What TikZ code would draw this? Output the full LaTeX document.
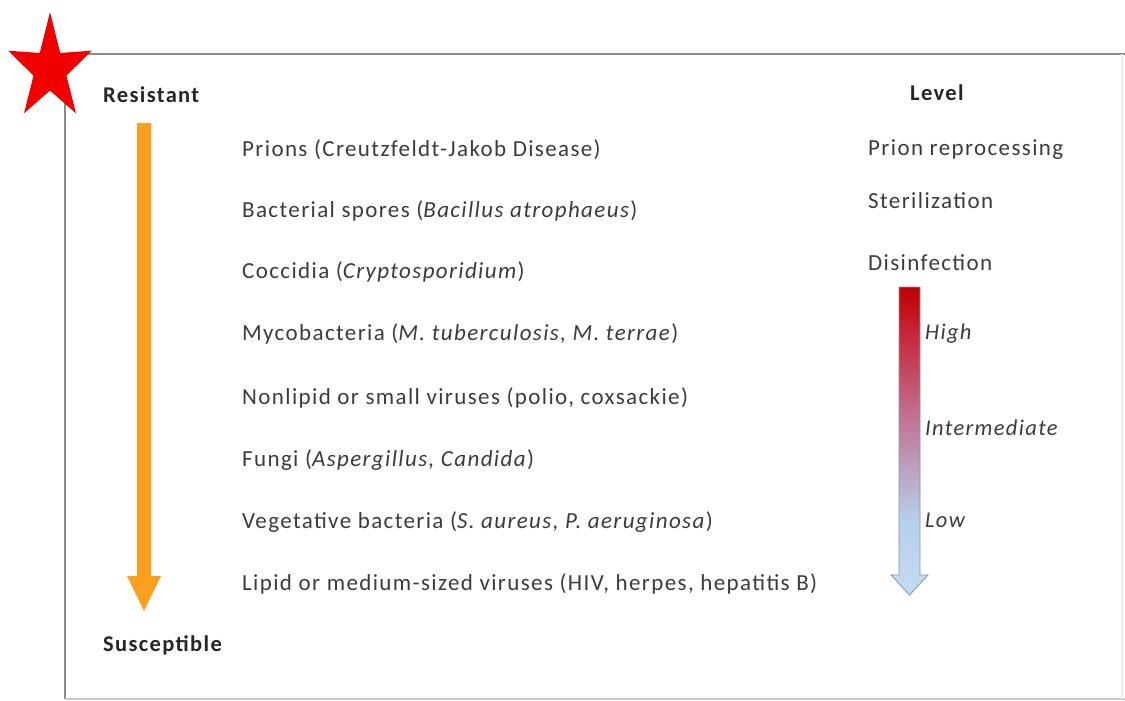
\documentclass[tikz,border=0pt]{standalone}
\usepackage{fontspec}
\setmainfont{Carlito}[LetterSpace=6]
\definecolor{textgray}{RGB}{60,60,60}
\definecolor{framegray}{RGB}{140,140,140}
\definecolor{arroworange}{RGB}{250,160,30}
\definecolor{darkred}{RGB}{192,0,0}
\definecolor{redtwo}{RGB}{200,40,60}
\definecolor{midpink}{RGB}{192,125,158}
\definecolor{lightblue}{RGB}{195,220,240}
\definecolor{lbtwo}{RGB}{183,208,234}
\definecolor{outlineblue}{RGB}{130,150,175}
\pgfdeclareverticalshading{lvlshade}{100bp}{color(0bp)=(lightblue); color(25bp)=(lightblue);
  color(37bp)=(lbtwo); color(52bp)=(midpink); color(67bp)=(redtwo); color(75bp)=(darkred); color(100bp)=(darkred)}
\begin{document}
\begin{tikzpicture}[x=1pt,y=-1pt,
  txt/.style={anchor=west,inner sep=0pt,text=textgray,font=\fontsize{23}{26}\selectfont},
  hdr/.style={anchor=west,inner sep=0pt,text=black!85,font=\fontsize{22.5}{26}\selectfont\bfseries},
  lvl/.style={anchor=west,inner sep=0pt,text=textgray,font=\fontsize{22.5}{26}\selectfont\itshape}]
\useasboundingbox (0,0) rectangle (1125,701);
\fill[white] (0,0) rectangle (1125,701);
% frame
\coordinate (tl) at (65,54);
\coordinate (tr) at (1125,54);
\coordinate (bl) at (65,699);
\coordinate (br) at (1125,699);
\draw[framegray,line width=2.5pt] (tr) -- (tl) -- (bl);
\draw[black!22,line width=2pt] (bl) -- (br);
\draw[black!8,line width=1.5pt] (1122,54) -- (1122,699);
% star
\fill[red!95!black] (50,12) -- (60.2,53.0) -- (91.8,50.7) -- (66.5,75.6) -- (76.0,113.3)
  -- (50,90.6) -- (24.0,113.3) -- (33.5,75.6) -- (8.2,50.7) -- (39.8,53.0) -- cycle;
% headers
\node[hdr] (res) at (103,95) {Resistant};
\node[hdr] (sus) at (103,645) {Susceptible};
\node[hdr] (lev) at (910,93) {Level};
% orange arrow
\fill[arroworange] (137,123) -- (151,123) -- (151,576) -- (161,576) -- (144,611)
  -- (127,576) -- (137,576) -- cycle;
% organisms
\node[txt] (r1) at (242,150) {Prions (Creutzfeldt-Jakob Disease)};
\node[txt] (r2) at (242,211) {Bacterial spores (\textit{Bacillus atrophaeus})};
\node[txt] (r3) at (242,272) {Coccidia (\textit{Cryptosporidium})};
\node[txt] (r4) at (242,334) {Mycobacteria (\textit{M. tuberculosis, M. terrae})};
\node[txt] (r5) at (242,398) {Nonlipid or small viruses (polio, coxsackie)};
\node[txt] (r6) at (242,460) {Fungi (\textit{Aspergillus, Candida})};
\node[txt] (r7) at (242,522) {Vegetative bacteria (\textit{S. aureus, P. aeruginosa})};
\node[txt] (r8) at (242,584) {Lipid or medium-sized viruses (HIV, herpes, hepatitis B)};
% levels
\node[txt] (l1) at (868,150) {Prion reprocessing};
\node[txt] (l2) at (868,201) {Sterilization};
\node[txt] (l3) at (868,263) {Disinfection};
% gradient arrow
\path[draw=outlineblue,line width=0.8pt,shading=lvlshade]
  (899,287) -- (920,287) -- (920,575) -- (928,575) -- (909.5,595) -- (891,575) -- (899,575) -- cycle;
\node[lvl] (h) at (925,334) {High};
\node[lvl] (m) at (925,428) {Intermediate};
\node[lvl] (lo) at (925,520) {Low};
\end{tikzpicture}
\end{document}
